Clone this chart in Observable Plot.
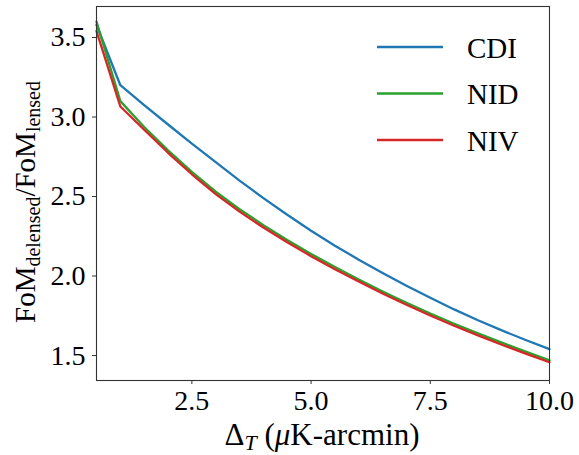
<!DOCTYPE html>
<html><head><meta charset="utf-8">
<script src="https://cdn.jsdelivr.net/npm/d3@7"></script>
<script src="https://cdn.jsdelivr.net/npm/@observablehq/plot@0.6"></script>
<style>body{margin:0;background:#fff}</style>
</head><body><div id="chart"></div>
<script>
const deltaT = [0.5,1.0,1.5,2.0,2.5,3.0,3.5,4.0,4.5,5.0,5.5,6.0,6.5,7.0,7.5,8.0,8.5,9.0,9.5,10.0];
const cdi = [3.58,3.20,3.075,2.953,2.833,2.716,2.60,2.49,2.385,2.285,2.191,2.103,2.019,1.939,1.863,1.790,1.722,1.658,1.598,1.540];
const nid = [3.60,3.10,2.937,2.79,2.655,2.53,2.42,2.32,2.226,2.139,2.057,1.978,1.903,1.832,1.764,1.70,1.639,1.581,1.525,1.47];
const niv = [3.54,3.066,2.92,2.775,2.64,2.515,2.405,2.305,2.212,2.125,2.043,1.965,1.890,1.819,1.7515,1.6875,1.6265,1.568,1.512,1.458];
const seriesNames = ["CDI","NID","NIV"];
const seriesColors = ["#1f77b4","#2ca02c","#d62728"];
const xTicks = [2.5,5.0,7.5,10.0];
const yTicks = [1.5,2.0,2.5,3.0,3.5];

const seriesValues = [cdi, nid, niv];
const rows = [];
seriesNames.forEach((name, i) => {
  deltaT.forEach((x, j) => rows.push({series: name, x, y: seriesValues[i][j]}));
});

const font = "'Liberation Serif', 'DejaVu Serif', serif";
const fmt = d => d.toFixed(1);

const plot = Plot.plot({
  width: 579, height: 455,
  marginLeft: 96, marginRight: 30, marginTop: 6, marginBottom: 75,
  style: {fontFamily: font, fontSize: "28px", background: "#fff", color: "#000"},
  x: {domain: [0.5, 10], label: null},
  y: {domain: [1.343, 3.695], label: null},
  color: {domain: seriesNames, range: seriesColors},
  marks: [
    Plot.line(rows, {x: "x", y: "y", z: "series", stroke: "series", strokeWidth: 2.3}),
    Plot.frame({stroke: "#333", strokeWidth: 1.1}),
    Plot.axisX({ticks: xTicks, tickFormat: fmt, tickSize: 4, tickPadding: 6, label: null, stroke: "#333"}),
    Plot.axisY({ticks: yTicks, tickFormat: fmt, tickSize: 4, tickPadding: 7, label: null, stroke: "#333"})
  ]
});

const svg = d3.select(plot);
// axis labels
const xl = svg.append("text").attr("x", 322).attr("y", 445).attr("text-anchor", "middle")
  .attr("font-family", font).attr("font-size", 31).attr("fill", "#000");
xl.append("tspan").text("Δ");
xl.append("tspan").attr("font-style", "italic").attr("font-size", 22).attr("dy", 5).text("T");
xl.append("tspan").attr("dy", -5).text(" (");
xl.append("tspan").attr("font-style", "italic").text("μ");
xl.append("tspan").text("K-arcmin)");

const yl = svg.append("text").attr("transform", "translate(35,202) rotate(-90)").attr("text-anchor", "middle")
  .attr("font-family", font).attr("font-size", 29).attr("fill", "#000");
yl.append("tspan").text("FoM");
yl.append("tspan").attr("font-size", 20).attr("dy", 5).text("delensed");
yl.append("tspan").attr("dy", -5).text("/FoM");
yl.append("tspan").attr("font-size", 20).attr("dy", 5).text("lensed");

// legend
const legendY = [47, 93.5, 140];
seriesNames.forEach((name, i) => {
  svg.append("line").attr("x1", 377).attr("x2", 443).attr("y1", legendY[i]).attr("y2", legendY[i])
    .attr("stroke", seriesColors[i]).attr("stroke-width", 2.3);
  svg.append("text").attr("x", 467).attr("y", legendY[i] + 10.5).attr("text-anchor", "start")
    .attr("font-family", font).attr("font-size", 29).attr("fill", "#000").text(name);
});

document.getElementById("chart").appendChild(plot);
</script>
</body></html>
